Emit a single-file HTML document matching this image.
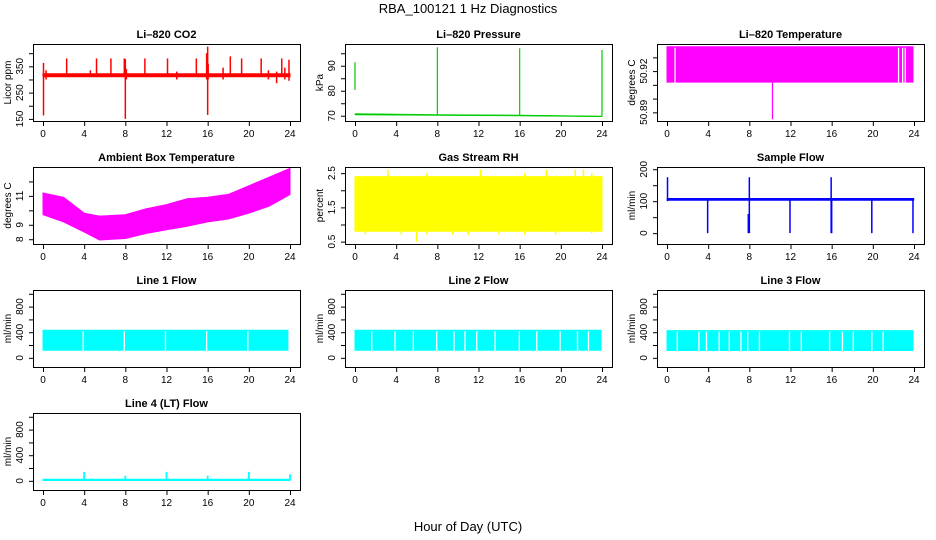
<!DOCTYPE html>
<html><head><meta charset="utf-8"><style>
html,body{margin:0;padding:0;background:#fff;}
svg{display:block;font-family:"Liberation Sans",Arial,sans-serif;}
</style></head><body>
<svg id="root" width="936" height="540" viewBox="0 0 936 540">
<text x="468" y="13" text-anchor="middle" font-size="13">RBA_100121  1 Hz Diagnostics</text>
<text x="468" y="531" text-anchor="middle" font-size="13">Hour of Day (UTC)</text>
</svg>
<script>
// ---- data arrays ----
const xTicks = [0,4,8,12,16,20,24];
// CO2
const co2BandHours = [0,24];
const co2BandLo = [310,310];
const co2BandHi = [322,322];
const co2SpikeX = [0.05,0.3,2.3,4.6,5.2,6.6,7.9,8.0,8.1,9.9,12.1,13.0,14.9,15.9,16.0,16.05,17.5,18.2,19.3,21.2,21.9,22.7,23.2,23.5,23.9];
const co2SpikeLo = [163,300,315,315,315,315,318,150,300,315,315,300,315,300,165,300,300,315,315,315,300,286,315,300,295];
const co2SpikeHi = [363,335,380,335,380,380,380,378,340,380,380,330,380,400,425,360,345,388,380,380,335,330,380,345,375];
// Pressure
const presBandHours = [0,8,16,24];
const presBandLo = [70.3,70.1,69.9,69.6];
const presBandHi = [70.9,70.5,70.3,69.9];
const presSpikeX = [0.0,8.0,16.0,24.0];
const presSpikeLo = [80.3,70.2,70.0,69.8];
const presSpikeHi = [91.4,97.4,97.0,96.3];
// Li-820 temperature
const tempBandHours = [0,23.9];
const tempBandLo = [50.912,50.912];
const tempBandHi = [50.9377,50.9377];
const tempGaps = [0.78,22.5,22.9,23.15];
const tempSpikeX = [10.25];
const tempSpikeLo = [50.885];
const tempSpikeHi = [50.912];
// Ambient box temperature
const ambHours = [0,2,4,5.5,8,10,12,14,16,18,20,22,24];
const ambHi = [11.2,10.9,9.8,9.6,9.7,10.1,10.4,10.8,10.9,11.1,11.7,12.3,12.9];
const ambLo = [9.7,9.2,8.5,7.95,8.05,8.4,8.65,8.9,9.2,9.4,9.8,10.3,11.1];
// Gas stream RH
const rhHours = [0,24];
const rhLo = [0.8,0.8];
const rhHi = [2.4,2.4];
const rhSpikeX = [1.0,3.2,4.5,6.0,7.0,9.5,11.0,12.2,14.0,16.5,18.6,19.5,21.4,22.2,23.0];
const rhSpikeLo = [0.7,1.0,0.7,0.5,0.7,0.7,0.7,1.0,0.7,0.7,1.0,0.7,1.0,1.0,0.75];
const rhSpikeHi = [2.4,2.6,2.4,2.4,2.5,2.4,2.4,2.6,2.4,2.5,2.6,2.4,2.6,2.6,2.5];
// Sample flow
const sfHours = [0,24];
const sfLo = [102,102];
const sfHi = [109,109];
const sfSpikeX = [0.05,3.95,7.9,8.0,11.95,15.95,16.0,19.9,23.9];
const sfSpikeLo = [100,0,0,0,0,0,0,0,0];
const sfSpikeHi = [175,105,60,175,105,175,105,105,105];
// Line flows
const l1Hours = [0,23.8];
const l1Lo = [120,120];
const l1Hi = [430,430];
const l1Gaps = [3.9,7.9,11.9,15.9,19.9];
const l2Hours = [0,23.9];
const l2Lo = [120,120];
const l2Hi = [430,430];
const l2Gaps = [1.62,3.89,5.67,7.94,9.62,10.69,11.83,13.61,15.97,17.66,19.93,21.62,22.69];
const l3Hours = [0,23.9];
const l3Lo = [115,115];
const l3Hi = [425,425];
const l3Gaps = [1.0,3.1,3.84,5.07,6.05,7.18,7.84,8.98,11.9,13.05,15.8,17.05,18.1,19.9,21.0];
const l4Hours = [0,24];
const l4Lo = [5,5];
const l4Hi = [25,25];
const l4SpikeX = [4.0,8.0,12.0,16.0,20.0,24.0];
const l4SpikeLo = [15,15,15,15,15,15];
const l4SpikeHi = [140,80,140,80,140,100];

// ---- layout ----
const NS = "http://www.w3.org/2000/svg";
const root = document.getElementById('root');
const colLeft = [33,345,657];
const rowTop = [44,167,290,413];
const BW = 267, BH = 77;

function mk(tag, attrs, parent){
  const e = document.createElementNS(NS, tag);
  for (const k in attrs) e.setAttribute(k, attrs[k]);
  (parent||root).appendChild(e);
  return e;
}

function panel(cfg){
  const L = colLeft[cfg.col], T = rowTop[cfg.row];
  const g = mk('g', {});
  
  
  const sx = h => L + 10 + h/24*247;
  const sy = v => T + (cfg.dom[1]-v)/(cfg.dom[1]-cfg.dom[0])*BH;
  const col = cfg.color;
  if (cfg.hours){
    let pts = [];
    for (let i=0;i<cfg.hours.length;i++) pts.push(sx(cfg.hours[i]).toFixed(1)+','+sy(cfg.hi[i]).toFixed(1));
    for (let i=cfg.hours.length-1;i>=0;i--) pts.push(sx(cfg.hours[i]).toFixed(1)+','+sy(cfg.lo[i]).toFixed(1));
    const p = mk('polygon', {points: pts.join(' '), fill: col, stroke: col, 'stroke-width': cfg.bandStroke||1}, g);
    
    
  }
  if (cfg.gaps){
    const ylo = Math.min.apply(null, cfg.lo), yhi = Math.max.apply(null, cfg.hi);
    cfg.gaps.forEach(h => {
      const l = mk('line', {x1: sx(h), x2: sx(h), y1: sy(yhi)+1, y2: sy(ylo)+1, stroke: '#fff', 'stroke-width': 1.3}, g);
      
      
    });
  }
  if (cfg.spikeX){
    cfg.spikeX.forEach((h,i) => {
      const l = mk('line', {x1: sx(h), x2: sx(h), y1: sy(cfg.spikeLo[i]), y2: sy(cfg.spikeHi[i]), stroke: col, 'stroke-width': cfg.spikeW||1.2}, g);
      
      
    });
  }
  const box = mk('rect', {x: L+0.5, y: T+0.5, width: BW, height: BH, fill: 'none', stroke: '#000', 'stroke-width': 1}, g);
  
  
  const tt = mk('text', {x: L + BW/2, y: T - 6, 'text-anchor': 'middle', 'font-size': 11, 'font-weight': 'bold'}, g);
  tt.textContent = cfg.title;
  
  
  const xa = mk('g', {}, g);
  
  
  mk('line', {x1: sx(0), x2: sx(24), y1: T+BH+0.5, y2: T+BH+0.5, stroke: '#000'}, xa);
  xTicks.forEach(t => {
    mk('line', {x1: sx(t)+0.5, x2: sx(t)+0.5, y1: T+BH, y2: T+BH+5, stroke: '#000'}, xa);
    const tx = mk('text', {x: sx(t), y: T+BH+16, 'text-anchor': 'middle', 'font-size': 10}, xa);
    tx.textContent = t;
    
    
  });
  const ya = mk('g', {}, g);
  
  
  const t0 = cfg.yTicks[0], t1 = cfg.yTicks[cfg.yTicks.length-1];
  mk('line', {x1: L+0.5, x2: L+0.5, y1: sy(t0), y2: sy(t1), stroke: '#000'}, ya);
  cfg.yTicks.forEach(t => {
    mk('line', {x1: L-4, x2: L, y1: sy(t)+0.5, y2: sy(t)+0.5, stroke: '#000'}, ya);
  });
  cfg.yLabels.forEach(t => {
    const y = sy(t), x = L - 10;
    const tx = mk('text', {x: x, y: y, 'text-anchor': 'middle', 'font-size': 10, transform: 'rotate(-90 '+x+' '+y+')'}, ya);
    tx.textContent = cfg.fmt ? cfg.fmt(t) : t;
    
    
  });
  const yx = L - 22, yy = T + BH/2;
  const yt = mk('text', {x: yx, y: yy, 'text-anchor': 'middle', 'font-size': 10, transform: 'rotate(-90 '+yx+' '+yy+')'}, ya);
  yt.textContent = cfg.ylab;
  
  
}

const flowTicks = [0,200,400,600,800,1000];
const flowLabels = [0,400,800];
const flowDom = [-143,1059];

panel({name:'co2', title:'Li\u2013820 CO2', col:0,row:0, dom:[142,435], color:'#ff0000', ylab:'Licor ppm',
  yTicks:[150,200,250,300,350,400], yLabels:[150,250,350],
  hours:co2BandHours, lo:co2BandLo, hi:co2BandHi, spikeX:co2SpikeX, spikeLo:co2SpikeLo, spikeHi:co2SpikeHi, spikeW:1.5});
panel({name:'pressure', title:'Li\u2013820 Pressure', col:1,row:0, dom:[67.9,98.7], color:'#00cc00', ylab:'kPa',
  yTicks:[70,75,80,85,90,95], yLabels:[70,80,90], bandStroke:0.5,
  hours:presBandHours, lo:presBandLo, hi:presBandHi, spikeX:presSpikeX, spikeLo:presSpikeLo, spikeHi:presSpikeHi});
panel({name:'li820-temperature', title:'Li\u2013820 Temperature', col:2,row:0, dom:[50.8837,50.9397], color:'#ff00ff', ylab:'degrees C',
  yTicks:[50.89,50.90,50.91,50.92,50.93], yLabels:[50.89,50.92], fmt:v=>v.toFixed(2),
  hours:tempBandHours, lo:tempBandLo, hi:tempBandHi, gaps:tempGaps, spikeX:tempSpikeX, spikeLo:tempSpikeLo, spikeHi:tempSpikeHi});
panel({name:'ambient-temperature', title:'Ambient Box Temperature', col:0,row:1, dom:[7.67,13.0], color:'#ff00ff', ylab:'degrees C',
  yTicks:[8,9,10,11,12], yLabels:[8,9,11],
  hours:ambHours, lo:ambLo, hi:ambHi});
panel({name:'gas-rh', title:'Gas Stream RH', col:1,row:1, dom:[0.43,2.68], color:'#ffff00', ylab:'percent',
  yTicks:[0.5,1,1.5,2,2.5], yLabels:[0.5,1.5,2.5],
  hours:rhHours, lo:rhLo, hi:rhHi, spikeX:rhSpikeX, spikeLo:rhSpikeLo, spikeHi:rhSpikeHi, spikeW:1.5});
panel({name:'sample-flow', title:'Sample Flow', col:2,row:1, dom:[-34,207], color:'#0000ff', ylab:'ml/min',
  yTicks:[0,50,100,150,200], yLabels:[0,100,200], bandStroke:0.5,
  hours:sfHours, lo:sfLo, hi:sfHi, spikeX:sfSpikeX, spikeLo:sfSpikeLo, spikeHi:sfSpikeHi, spikeW:1.5});
panel({name:'line1-flow', title:'Line 1 Flow', col:0,row:2, dom:flowDom, color:'#00ffff', ylab:'ml/min',
  yTicks:flowTicks, yLabels:flowLabels, hours:l1Hours, lo:l1Lo, hi:l1Hi, gaps:l1Gaps});
panel({name:'line2-flow', title:'Line 2 Flow', col:1,row:2, dom:flowDom, color:'#00ffff', ylab:'ml/min',
  yTicks:flowTicks, yLabels:flowLabels, hours:l2Hours, lo:l2Lo, hi:l2Hi, gaps:l2Gaps});
panel({name:'line3-flow', title:'Line 3 Flow', col:2,row:2, dom:flowDom, color:'#00ffff', ylab:'ml/min',
  yTicks:flowTicks, yLabels:flowLabels, hours:l3Hours, lo:l3Lo, hi:l3Hi, gaps:l3Gaps});
panel({name:'line4-flow', title:'Line 4 (LT) Flow', col:0,row:3, dom:flowDom, color:'#00ffff', ylab:'ml/min',
  yTicks:flowTicks, yLabels:flowLabels, hours:l4Hours, lo:l4Lo, hi:l4Hi, spikeX:l4SpikeX, spikeLo:l4SpikeLo, spikeHi:l4SpikeHi, spikeW:1.8});
</script>
</body></html>
